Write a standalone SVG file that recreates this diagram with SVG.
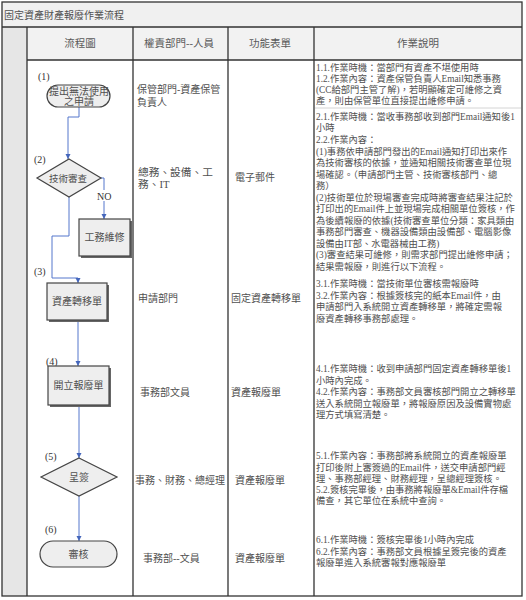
<svg xmlns="http://www.w3.org/2000/svg" width="526" height="600" viewBox="0 0 526 600">
<style>
text{font-family:'Liberation Serif','Noto Sans CJK TC',serif;fill:#505050}
.t{font-size:10px}
.h{font-size:10.5px;text-anchor:middle;fill:#5a5a5a}
.d{font-size:9.3px}
.c{font-size:10px;text-anchor:middle}
.lab{font-size:10px;fill:#333}
.grid{stroke:#333;stroke-width:1.3;fill:none}
.shape{fill:#eeeeee;stroke:#444;stroke-width:1.2}
.sh{fill:#666}
.conn{fill:none;stroke:#5577cc;stroke-width:1}
</style>
<defs>
<marker id="arr" markerWidth="6" markerHeight="6" refX="5" refY="3" orient="auto" markerUnits="userSpaceOnUse">
<path d="M0,0.5 L5,3 L0,5.5 z" fill="#4466bb"/>
</marker>
</defs>
<rect width="526" height="600" fill="#ffffff"/>
<g id="table">
<rect x="2" y="2" width="520" height="25" fill="#f0f0f0"/>
<rect x="27" y="27" width="495" height="33" fill="#f2f2f2"/>
<rect x="2" y="27" width="25" height="569" fill="#e6e6e6"/>
<rect x="2" y="2" width="520" height="594" class="grid"/>
<path class="grid" d="M2,27 H522 M27,60 H522 M27,27 V596 M133,27 V596 M228,27 V596 M314,27 V596"/>
<path d="M315,108 H521" stroke="#d4d4d4" stroke-width="1"/>
<text class="t" x="4" y="18.5">固定資產財產報廢作業流程</text>
<text class="h" x="80" y="47">流程圖</text>
<text class="h" x="179" y="47">權責部門--人員</text>
<text class="h" x="270" y="47">功能表單</text>
<text class="h" x="418" y="47">作業說明</text>
</g>
<g id="roles">
<text class="t" x="137" y="93">保管部門-資產保管</text>
<text class="t" x="137" y="106">負責人</text>
<text x="138" y="176" style="font-size:10.7px">總務、設備、工</text>
<text x="138" y="188" style="font-size:10.7px">務、IT</text>
<text class="t" x="138" y="302">申請部門</text>
<text class="t" x="140" y="396">事務部文員</text>
<text class="t" x="135" y="484">事務、財務、總經理</text>
<text class="t" x="143" y="562">事務部--文員</text>
</g>
<g id="forms">
<text class="t" x="235" y="181">電子郵件</text>
<text class="t" x="231" y="302">固定資產轉移單</text>
<text class="t" x="231" y="396">資產報廢單</text>
<text class="t" x="235" y="484">資產報廢單</text>
<text class="t" x="235" y="562">資產報廢單</text>
</g>
<g id="desc">
<text class="d" x="316" y="70.5">1.1.作業時機：當部門有資產不堪使用時</text>
<text class="d" x="316" y="81.5">1.2.作業內容：資產保管負責人Email知悉事務</text>
<text class="d" x="316" y="92.5">(CC給部門主管了解)，若明顯確定可維修之資</text>
<text class="d" x="316" y="103.5">產，則由保管單位直接提出維修申請。</text>
<text class="d" x="316" y="119.5">2.1.作業時機：當收事務部收到部門Email通知後1</text>
<text class="d" x="316" y="130.5">小時</text>
<text class="d" x="316" y="142.5">2.2.作業內容：</text>
<text class="d" x="316" y="154.5">(1)事務依申請部門發出的Email通知打印出來作</text>
<text class="d" x="316" y="165.5">為技術審核的依據，並通知相關技術審查單位現</text>
<text class="d" x="316" y="177.5">場確認。（申請部門主管、技術審核部門、總</text>
<text class="d" x="316" y="188.5">務）</text>
<text class="d" x="316" y="200.5">(2)技術單位於現場審查完成時將審查結果注記於</text>
<text class="d" x="316" y="211.5">打印出的Email件上並現場完成相關單位簽核，作</text>
<text class="d" x="316" y="223.5">為後續報廢的依據(技術審查單位分類：家具類由</text>
<text class="d" x="316" y="234.5">事務部門審查、機器設備類由設備部、電腦影像</text>
<text class="d" x="316" y="246.5">設備由IT部、水電器械由工務)</text>
<text class="d" x="316" y="257.5">(3)審查結果可維修，則需求部門提出維修申請；</text>
<text class="d" x="316" y="269.5">結果需報廢，則進行以下流程。</text>
<text class="d" x="316" y="286.5">3.1.作業時機：當技術單位審核需報廢時</text>
<text class="d" x="316" y="298.5">3.2.作業內容：根據簽核完的紙本Email件，由</text>
<text class="d" x="316" y="309.5">申請部門入系統開立資產轉移單，將確定需報</text>
<text class="d" x="316" y="321.5">廢資產轉移事務部處理。</text>
<text class="d" x="316" y="371.5">4.1.作業時機：收到申請部門固定資產轉移單後1</text>
<text class="d" x="316" y="383.5">小時內完成。</text>
<text class="d" x="316" y="394.5">4.2.作業內容：事務部文員審核部門開立之轉移單</text>
<text class="d" x="316" y="406.5">送入系統開立報廢單，將報廢原因及設備實物處</text>
<text class="d" x="316" y="417.5">理方式填寫清楚。</text>
<text class="d" x="316" y="458.5">5.1.作業內容：事務部將系統開立的資產報廢單</text>
<text class="d" x="316" y="470.5">打印後附上審簽過的Email件，送交申請部門經</text>
<text class="d" x="316" y="481.5">理、事務部經理、財務經理，呈總經理簽核。</text>
<text class="d" x="316" y="492.5">5.2.簽核完畢後，由事務將報廢單&amp;Email件存檔</text>
<text class="d" x="316" y="503.5">備查，其它單位在系統中查詢。</text>
<text class="d" x="316" y="542.5">6.1.作業時機：簽核完畢後1小時內完成</text>
<text class="d" x="316" y="554.5">6.2.作業內容：事務部文員根據呈簽完後的資產</text>
<text class="d" x="316" y="565.5">報廢單進入系統審報對應報廢單</text>
</g>
<g id="connectors">
<path class="conn" d="M79,107 V117 H68 V159" marker-end="url(#arr)"/>
<path class="conn" d="M101,178 H104 V219" marker-end="url(#arr)"/>
<path class="conn" d="M69,197 V236 H52 V278 H78 V283" marker-end="url(#arr)"/>
<path class="conn" d="M78,320 V366" marker-end="url(#arr)"/>
<path class="conn" d="M79,405 V458" marker-end="url(#arr)"/>
<path class="conn" d="M79,496 V541" marker-end="url(#arr)"/>
<rect x="96" y="190" width="17" height="11" fill="#ffffff"/>
<text class="lab" x="97" y="199.5">NO</text>
</g>
<g id="n1">
<text class="lab" x="38" y="80">(1)</text>
<rect x="47" y="85" width="63" height="22" rx="11" class="shape"/>
<text class="c" x="79" y="94.5">提出無法使用</text>
<text class="c" x="79" y="105">之申請</text>
</g>
<g id="n2">
<text class="lab" x="34" y="163">(2)</text>
<polygon points="69,159 101,178 69,197 37,178" class="shape"/>
<text class="c" x="68" y="181.5" style="font-size:9.5px">技術審查</text>
</g>
<g id="n2b">
<rect x="81" y="221" width="51" height="37" class="sh"/>
<rect x="79" y="219" width="51" height="37" class="shape"/>
<text class="c" x="104.5" y="241">工務維修</text>
</g>
<g id="n3">
<text class="lab" x="34" y="275">(3)</text>
<rect x="49" y="285" width="60" height="37" class="sh"/>
<rect x="47" y="283" width="60" height="37" class="shape"/>
<text class="c" x="77" y="305">資產轉移單</text>
</g>
<g id="n4">
<text class="lab" x="46" y="365">(4)</text>
<rect x="50" y="368" width="61" height="39" class="sh"/>
<rect x="48" y="366" width="61" height="39" class="shape"/>
<text class="c" x="78.5" y="389">開立報廢單</text>
</g>
<g id="n5">
<text class="lab" x="45" y="460">(5)</text>
<polygon points="79,458 117,477 79,496 41,477" class="shape"/>
<text class="c" x="79" y="480.5">呈簽</text>
</g>
<g id="n6">
<text class="lab" x="45" y="533">(6)</text>
<rect x="40" y="541" width="77" height="26" rx="13" class="shape"/>
<text class="c" x="78.5" y="557.5">審核</text>
</g>
</svg>
